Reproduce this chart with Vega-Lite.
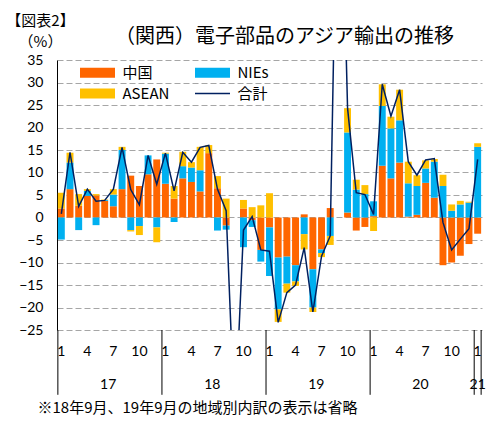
{
  "$schema": "https://vega.github.io/schema/vega-lite/v6.json",
  "width": 425,
  "height": 270,
  "autosize": {"type": "none"},
  "padding": {"left": 57, "top": 60, "right": 9, "bottom": 93},
  "background": "white",
  "config": {"view": {"stroke": null}},
  "title": {"text": "（関西）電子部品のアジア輸出の推移", "anchor": "middle", "dx": 15, "dy": 48, "offset": 14, "fontSize": 20, "fontWeight": "normal", "font": "Noto Sans CJK JP", "color": "black"},
  "data": {
    "values": [
      {"t": "2017-01", "s": "中国", "v": 2.0}, {"t": "2017-01", "s": "NIEs", "v": -4.9}, {"t": "2017-01", "s": "ASEAN", "v": 3.5},
      {"t": "2017-02", "s": "中国", "v": 6.3}, {"t": "2017-02", "s": "NIEs", "v": 5.9}, {"t": "2017-02", "s": "ASEAN", "v": 2.2},
      {"t": "2017-03", "s": "中国", "v": 2.6}, {"t": "2017-03", "s": "NIEs", "v": -2.8}, {"t": "2017-03", "s": "ASEAN", "v": 2.6},
      {"t": "2017-04", "s": "中国", "v": 4.8}, {"t": "2017-04", "s": "NIEs", "v": 1.1}, {"t": "2017-04", "s": "ASEAN", "v": 0.4},
      {"t": "2017-05", "s": "中国", "v": 4.9}, {"t": "2017-05", "s": "NIEs", "v": -1.7}, {"t": "2017-05", "s": "ASEAN", "v": 0.3},
      {"t": "2017-06", "s": "中国", "v": 3.7}, {"t": "2017-06", "s": "NIEs", "v": 0.2}, {"t": "2017-06", "s": "ASEAN", "v": 0.1},
      {"t": "2017-07", "s": "中国", "v": 2.5}, {"t": "2017-07", "s": "NIEs", "v": 2.6}, {"t": "2017-07", "s": "ASEAN", "v": 1.2},
      {"t": "2017-08", "s": "中国", "v": 6.3}, {"t": "2017-08", "s": "NIEs", "v": 8.7}, {"t": "2017-08", "s": "ASEAN", "v": 0.7},
      {"t": "2017-09", "s": "中国", "v": 9.3}, {"t": "2017-09", "s": "NIEs", "v": -2.8}, {"t": "2017-09", "s": "ASEAN", "v": -0.3},
      {"t": "2017-10", "s": "中国", "v": 7.0}, {"t": "2017-10", "s": "NIEs", "v": -1.9}, {"t": "2017-10", "s": "ASEAN", "v": -2.0},
      {"t": "2017-11", "s": "中国", "v": 9.6}, {"t": "2017-11", "s": "NIEs", "v": 4.2}, {"t": "2017-11", "s": "ASEAN", "v": 0.0},
      {"t": "2017-12", "s": "中国", "v": 12.9}, {"t": "2017-12", "s": "NIEs", "v": -2.2}, {"t": "2017-12", "s": "ASEAN", "v": -3.3},
      {"t": "2018-01", "s": "中国", "v": 7.5}, {"t": "2018-01", "s": "NIEs", "v": 6.7}, {"t": "2018-01", "s": "ASEAN", "v": 0.2},
      {"t": "2018-02", "s": "中国", "v": 4.2}, {"t": "2018-02", "s": "NIEs", "v": -1.0}, {"t": "2018-02", "s": "ASEAN", "v": 2.8},
      {"t": "2018-03", "s": "中国", "v": 8.7}, {"t": "2018-03", "s": "NIEs", "v": 2.7}, {"t": "2018-03", "s": "ASEAN", "v": 3.2},
      {"t": "2018-04", "s": "中国", "v": 7.9}, {"t": "2018-04", "s": "NIEs", "v": 3.2}, {"t": "2018-04", "s": "ASEAN", "v": 1.2},
      {"t": "2018-05", "s": "中国", "v": 5.8}, {"t": "2018-05", "s": "NIEs", "v": 4.7}, {"t": "2018-05", "s": "ASEAN", "v": 5.2},
      {"t": "2018-06", "s": "中国", "v": 14.3}, {"t": "2018-06", "s": "NIEs", "v": 0.0}, {"t": "2018-06", "s": "ASEAN", "v": 1.8},
      {"t": "2018-07", "s": "中国", "v": 6.5}, {"t": "2018-07", "s": "NIEs", "v": -2.9}, {"t": "2018-07", "s": "ASEAN", "v": 2.7},
      {"t": "2018-08", "s": "中国", "v": -1.8}, {"t": "2018-08", "s": "NIEs", "v": -0.9}, {"t": "2018-08", "s": "ASEAN", "v": 4.2},
      {"t": "2018-10", "s": "中国", "v": 2.0}, {"t": "2018-10", "s": "NIEs", "v": -6.6}, {"t": "2018-10", "s": "ASEAN", "v": 1.9},
      {"t": "2018-11", "s": "中国", "v": -0.6}, {"t": "2018-11", "s": "NIEs", "v": -1.5}, {"t": "2018-11", "s": "ASEAN", "v": 2.3},
      {"t": "2018-12", "s": "中国", "v": -7.2}, {"t": "2018-12", "s": "NIEs", "v": -2.6}, {"t": "2018-12", "s": "ASEAN", "v": 2.7},
      {"t": "2019-01", "s": "中国", "v": -2.2}, {"t": "2019-01", "s": "NIEs", "v": -10.8}, {"t": "2019-01", "s": "ASEAN", "v": 5.4},
      {"t": "2019-02", "s": "中国", "v": -8.9}, {"t": "2019-02", "s": "NIEs", "v": -11.5}, {"t": "2019-02", "s": "ASEAN", "v": -2.8},
      {"t": "2019-03", "s": "中国", "v": -8.7}, {"t": "2019-03", "s": "NIEs", "v": -6.0}, {"t": "2019-03", "s": "ASEAN", "v": -2.0},
      {"t": "2019-04", "s": "中国", "v": -10.6}, {"t": "2019-04", "s": "NIEs", "v": -3.6}, {"t": "2019-04", "s": "ASEAN", "v": -1.0},
      {"t": "2019-05", "s": "中国", "v": 0.7}, {"t": "2019-05", "s": "NIEs", "v": -3.7}, {"t": "2019-05", "s": "ASEAN", "v": -3.4},
      {"t": "2019-06", "s": "中国", "v": -11.5}, {"t": "2019-06", "s": "NIEs", "v": -8.5}, {"t": "2019-06", "s": "ASEAN", "v": -1.0},
      {"t": "2019-07", "s": "中国", "v": -7.1}, {"t": "2019-07", "s": "NIEs", "v": -0.8}, {"t": "2019-07", "s": "ASEAN", "v": -0.9},
      {"t": "2019-08", "s": "中国", "v": 2.1}, {"t": "2019-08", "s": "NIEs", "v": -4.1}, {"t": "2019-08", "s": "ASEAN", "v": -2.0},
      {"t": "2019-10", "s": "中国", "v": 1.1}, {"t": "2019-10", "s": "NIEs", "v": 17.8}, {"t": "2019-10", "s": "ASEAN", "v": 5.4},
      {"t": "2019-11", "s": "中国", "v": -2.9}, {"t": "2019-11", "s": "NIEs", "v": 6.2}, {"t": "2019-11", "s": "ASEAN", "v": 2.2},
      {"t": "2019-12", "s": "中国", "v": -2.1}, {"t": "2019-12", "s": "NIEs", "v": 5.2}, {"t": "2019-12", "s": "ASEAN", "v": 2.0},
      {"t": "2020-01", "s": "中国", "v": 0.3}, {"t": "2020-01", "s": "NIEs", "v": 3.3}, {"t": "2020-01", "s": "ASEAN", "v": -3.0},
      {"t": "2020-02", "s": "中国", "v": 11.5}, {"t": "2020-02", "s": "NIEs", "v": 13.3}, {"t": "2020-02", "s": "ASEAN", "v": 4.8},
      {"t": "2020-03", "s": "中国", "v": 8.7}, {"t": "2020-03", "s": "NIEs", "v": 11.1}, {"t": "2020-03", "s": "ASEAN", "v": 2.6},
      {"t": "2020-04", "s": "中国", "v": 12.2}, {"t": "2020-04", "s": "NIEs", "v": 9.4}, {"t": "2020-04", "s": "ASEAN", "v": 6.8},
      {"t": "2020-05", "s": "中国", "v": 0.2}, {"t": "2020-05", "s": "NIEs", "v": 7.4}, {"t": "2020-05", "s": "ASEAN", "v": 4.8},
      {"t": "2020-06", "s": "中国", "v": 0.6}, {"t": "2020-06", "s": "NIEs", "v": 6.4}, {"t": "2020-06", "s": "ASEAN", "v": 2.4},
      {"t": "2020-07", "s": "中国", "v": 7.7}, {"t": "2020-07", "s": "NIEs", "v": 3.2}, {"t": "2020-07", "s": "ASEAN", "v": 1.8},
      {"t": "2020-08", "s": "中国", "v": 4.4}, {"t": "2020-08", "s": "NIEs", "v": 8.0}, {"t": "2020-08", "s": "ASEAN", "v": 0.6},
      {"t": "2020-09", "s": "中国", "v": -10.6}, {"t": "2020-09", "s": "NIEs", "v": 7.0}, {"t": "2020-09", "s": "ASEAN", "v": 2.5},
      {"t": "2020-10", "s": "中国", "v": -10.0}, {"t": "2020-10", "s": "NIEs", "v": 1.5}, {"t": "2020-10", "s": "ASEAN", "v": 1.4},
      {"t": "2020-11", "s": "中国", "v": -8.5}, {"t": "2020-11", "s": "NIEs", "v": 2.9}, {"t": "2020-11", "s": "ASEAN", "v": 0.8},
      {"t": "2020-12", "s": "中国", "v": -5.9}, {"t": "2020-12", "s": "NIEs", "v": 3.3}, {"t": "2020-12", "s": "ASEAN", "v": 0.2},
      {"t": "2021-01", "s": "中国", "v": -3.6}, {"t": "2021-01", "s": "NIEs", "v": 15.7}, {"t": "2021-01", "s": "ASEAN", "v": 0.8},
      {"t": "2017-01", "s": "合計", "v": 0.8}, {"t": "2017-02", "s": "合計", "v": 14.5}, {"t": "2017-03", "s": "合計", "v": 2.5}, {"t": "2017-04", "s": "合計", "v": 6.3},
      {"t": "2017-05", "s": "合計", "v": 3.6}, {"t": "2017-06", "s": "合計", "v": 3.8}, {"t": "2017-07", "s": "合計", "v": 6.3}, {"t": "2017-08", "s": "合計", "v": 15.6},
      {"t": "2017-09", "s": "合計", "v": 6.2}, {"t": "2017-10", "s": "合計", "v": 2.8}, {"t": "2017-11", "s": "合計", "v": 13.8}, {"t": "2017-12", "s": "合計", "v": 7.4},
      {"t": "2018-01", "s": "合計", "v": 14.3}, {"t": "2018-02", "s": "合計", "v": 5.9}, {"t": "2018-03", "s": "合計", "v": 14.5}, {"t": "2018-04", "s": "合計", "v": 12.3},
      {"t": "2018-05", "s": "合計", "v": 15.6}, {"t": "2018-06", "s": "合計", "v": 16.0}, {"t": "2018-07", "s": "合計", "v": 6.3}, {"t": "2018-08", "s": "合計", "v": 1.5},
      {"t": "2018-09", "s": "合計", "v": -46.0}, {"t": "2018-10", "s": "合計", "v": -2.8}, {"t": "2018-11", "s": "合計", "v": 0.2}, {"t": "2018-12", "s": "合計", "v": -7.2},
      {"t": "2019-01", "s": "合計", "v": -7.5}, {"t": "2019-02", "s": "合計", "v": -23.3}, {"t": "2019-03", "s": "合計", "v": -16.7}, {"t": "2019-04", "s": "合計", "v": -15.0},
      {"t": "2019-05", "s": "合計", "v": -6.7}, {"t": "2019-06", "s": "合計", "v": -21.0}, {"t": "2019-07", "s": "合計", "v": -8.6}, {"t": "2019-08", "s": "合計", "v": -4.1},
      {"t": "2019-09", "s": "合計", "v": 100.0}, {"t": "2019-10", "s": "合計", "v": 24.3}, {"t": "2019-11", "s": "合計", "v": 5.5}, {"t": "2019-12", "s": "合計", "v": 5.1},
      {"t": "2020-01", "s": "合計", "v": 0.7}, {"t": "2020-02", "s": "合計", "v": 29.6}, {"t": "2020-03", "s": "合計", "v": 22.5}, {"t": "2020-04", "s": "合計", "v": 28.4},
      {"t": "2020-05", "s": "合計", "v": 12.4}, {"t": "2020-06", "s": "合計", "v": 9.4}, {"t": "2020-07", "s": "合計", "v": 12.8}, {"t": "2020-08", "s": "合計", "v": 13.1},
      {"t": "2020-09", "s": "合計", "v": -1.1}, {"t": "2020-10", "s": "合計", "v": -7.2}, {"t": "2020-11", "s": "合計", "v": -4.8}, {"t": "2020-12", "s": "合計", "v": -2.5},
      {"t": "2021-01", "s": "合計", "v": 12.9}
    ]
  },
  "encoding": {
    "x": {
      "field": "t", "type": "ordinal",
      "scale": {"paddingInner": 0.2, "paddingOuter": 0.1},
      "axis": {
        "title": "※18年9月、19年9月の地域別内訳の表示は省略", "titleAnchor": "start", "titleAlign": "left", "titlePadding": 42,
        "titleFontSize": 15, "titleFontWeight": "normal", "titleFont": "Noto Sans CJK JP", "titleColor": "black", "titleX": -20,
        "domain": false, "grid": false, "ticks": false,
        "labelExpr": "(slice(datum.value, 5) === '01' || slice(datum.value, 5) === '04' || slice(datum.value, 5) === '07') ? slice(datum.value, 6) : (slice(datum.value, 5) === '10' ? '10' : '')",
        "labelAngle": 0, "labelOverlap": false, "labelPadding": 14,
        "labelFontSize": 14, "labelFont": "Lato", "labelColor": "black"
      }
    }
  },
  "layer": [
    {
      "transform": [{"filter": "datum.s !== '合計'"}],
      "mark": {"type": "bar"},
      "encoding": {
        "y": {
          "field": "v", "type": "quantitative", "stack": "zero",
          "scale": {"domain": [-25, 35], "nice": false},
          "axis": {
            "title": ["【図表2】", "（%）"], "titleAngle": 0, "titleX": -17, "titleY": -40, "titleAlign": "center", "titleBaseline": "middle", "titleLineHeight": 21,
            "titleFontSize": 15, "titleFontWeight": "normal", "titleFont": "Noto Sans CJK JP", "titleColor": "black",
            "values": [-25, -20, -15, -10, -5, 0, 5, 10, 15, 20, 25, 30, 35], "tickCount": 13,
            "labelFontSize": 14, "labelFont": "Lato", "labelColor": "black", "labelPadding": 14,
            "ticks": false, "domainColor": "black", "domainWidth": 1,
            "grid": true, "gridColor": "#A6A6A6", "gridDash": [6, 3], "gridWidth": 1
          }
        },
        "color": {
          "field": "s", "type": "nominal",
          "scale": {"domain": ["中国", "NIEs", "ASEAN", "合計"], "range": ["#FF6600", "#00B0F0", "#FFC000", "#002060"]},
          "legend": {
            "orient": "none", "legendX": 33, "legendY": 5, "columns": 2, "direction": "horizontal", "title": null,
            "labelFontSize": 15, "labelColor": "black", "labelFont": "Noto Sans CJK JP",
            "symbolSize": 100, "labelOffset": 17.5, "columnPadding": 22, "rowPadding": 4,
            "encode": {
              "symbols": {
                "update": {
                  "shape": {"signal": "datum.value === '合計' ? 'M-3.5,0H3.5' : 'M-3.5,-1H3.5V1H-3.5Z'"},
                  "fill": {"signal": "datum.value === '中国' ? '#FF6600' : datum.value === 'NIEs' ? '#00B0F0' : datum.value === 'ASEAN' ? '#FFC000' : 'transparent'"},
                  "stroke": {"signal": "datum.value === '合計' ? '#002060' : 'transparent'"},
                  "strokeWidth": {"value": 1.5},
                  "opacity": {"value": 1}
                }
              }
            }
          }
        },
        "order": {"field": "s", "sort": "descending"}
      }
    },
    {
      "transform": [{"filter": "datum.s === '合計' && slice(datum.t, 5) === '01'"}],
      "mark": {"type": "rule", "color": "black", "strokeWidth": 1},
      "encoding": {
        "x": {"field": "t", "type": "ordinal", "bandPosition": 0},
        "y": {"datum": -25},
        "y2": {"datum": -39.4}
      }
    },
    {
      "transform": [{"filter": "datum.s === '合計' && datum.t === '2021-01'"}],
      "mark": {"type": "rule", "color": "black", "strokeWidth": 1},
      "encoding": {
        "x": {"field": "t", "type": "ordinal", "bandPosition": 1},
        "y": {"datum": -25},
        "y2": {"datum": -39.4}
      }
    },
    {
      "transform": [{"filter": "datum.s === '合計' && slice(datum.t, 5) === '06'"}, {"calculate": "slice(datum.t, 2, 4)", "as": "yr"}],
      "mark": {"type": "text", "fontSize": 14, "font": "Lato", "color": "black"},
      "encoding": {
        "x": {"field": "t", "type": "ordinal", "bandPosition": 1},
        "y": {"datum": -37.2},
        "text": {"field": "yr"}
      }
    },
    {
      "transform": [{"filter": "datum.s === '合計' && datum.t === '2021-01'"}],
      "mark": {"type": "text", "fontSize": 14, "font": "Lato", "color": "black", "text": "21"},
      "encoding": {
        "x": {"field": "t", "type": "ordinal"},
        "y": {"datum": -37.2}
      }
    },
    {
      "mark": {"type": "rule", "color": "black", "strokeWidth": 1.3},
      "encoding": {"y": {"datum": 0}}
    },
    {
      "transform": [{"filter": "datum.s === '合計'"}],
      "mark": {"type": "line", "color": "#002060", "strokeWidth": 1.5, "clip": true},
      "encoding": {
        "y": {"field": "v", "type": "quantitative"}
      }
    }
  ]
}
